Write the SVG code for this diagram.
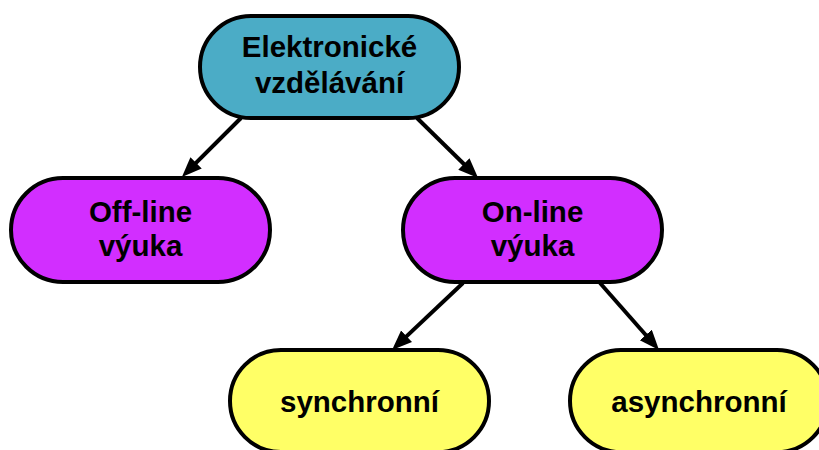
<svg xmlns="http://www.w3.org/2000/svg" width="819" height="450" viewBox="0 0 819 450">
  <style>
    .node { stroke: #000; stroke-width: 4; }
    .root { fill: #4BACC6; }
    .mode { fill: #D22EFF; }
    .kind { fill: #FFFF66; }
    .label { font-family: "Liberation Sans", Arial, sans-serif; font-weight: bold; font-size: 29.5px; fill: #000; text-anchor: middle; }
    .edge { stroke: #000; stroke-width: 4; fill: none; marker-end: url(#arrow); }
  </style>
  <defs>
    <!-- filled arrowhead; the line stops 10px short of the tip -->
    <marker id="arrow" markerUnits="userSpaceOnUse" markerWidth="22" markerHeight="18" refX="10" refY="8" orient="auto">
      <path d="M0,0 L20,8 L0,16 z" fill="#000"/>
    </marker>
  </defs>
  <rect width="819" height="450" fill="#fff"/>

  <g id="connectors">
    <line class="edge" x1="241" y1="118" x2="189" y2="169.9"/>
    <line class="edge" x1="417" y1="118" x2="471" y2="171"/>
    <line class="edge" x1="463" y1="283" x2="399.3" y2="343.1"/>
    <line class="edge" x1="600" y1="283" x2="652.4" y2="342.5"/>
  </g>

  <g id="elektronicke-vzdelavani">
    <rect class="node root" x="200" y="16" width="259" height="102" rx="51"/>
    <text class="label" x="329.5" y="57">Elektronické</text>
    <text class="label" x="329.5" y="93">vzdělávání</text>
  </g>

  <g id="offline-vyuka">
    <rect class="node mode" x="11" y="178" width="259" height="104" rx="52"/>
    <text class="label" x="140.5" y="222">Off-line</text>
    <text class="label" x="140.5" y="256">výuka</text>
  </g>

  <g id="online-vyuka">
    <rect class="node mode" x="403" y="178" width="259" height="104" rx="52"/>
    <text class="label" x="532.5" y="222">On-line</text>
    <text class="label" x="532.5" y="256">výuka</text>
  </g>

  <g id="synchronni">
    <rect class="node kind" x="230" y="350" width="259" height="102" rx="51"/>
    <text class="label" x="359.5" y="412">synchronní</text>
  </g>

  <g id="asynchronni">
    <rect class="node kind" x="570" y="350" width="258" height="102" rx="51"/>
    <text class="label" x="699" y="412">asynchronní</text>
  </g>
</svg>
